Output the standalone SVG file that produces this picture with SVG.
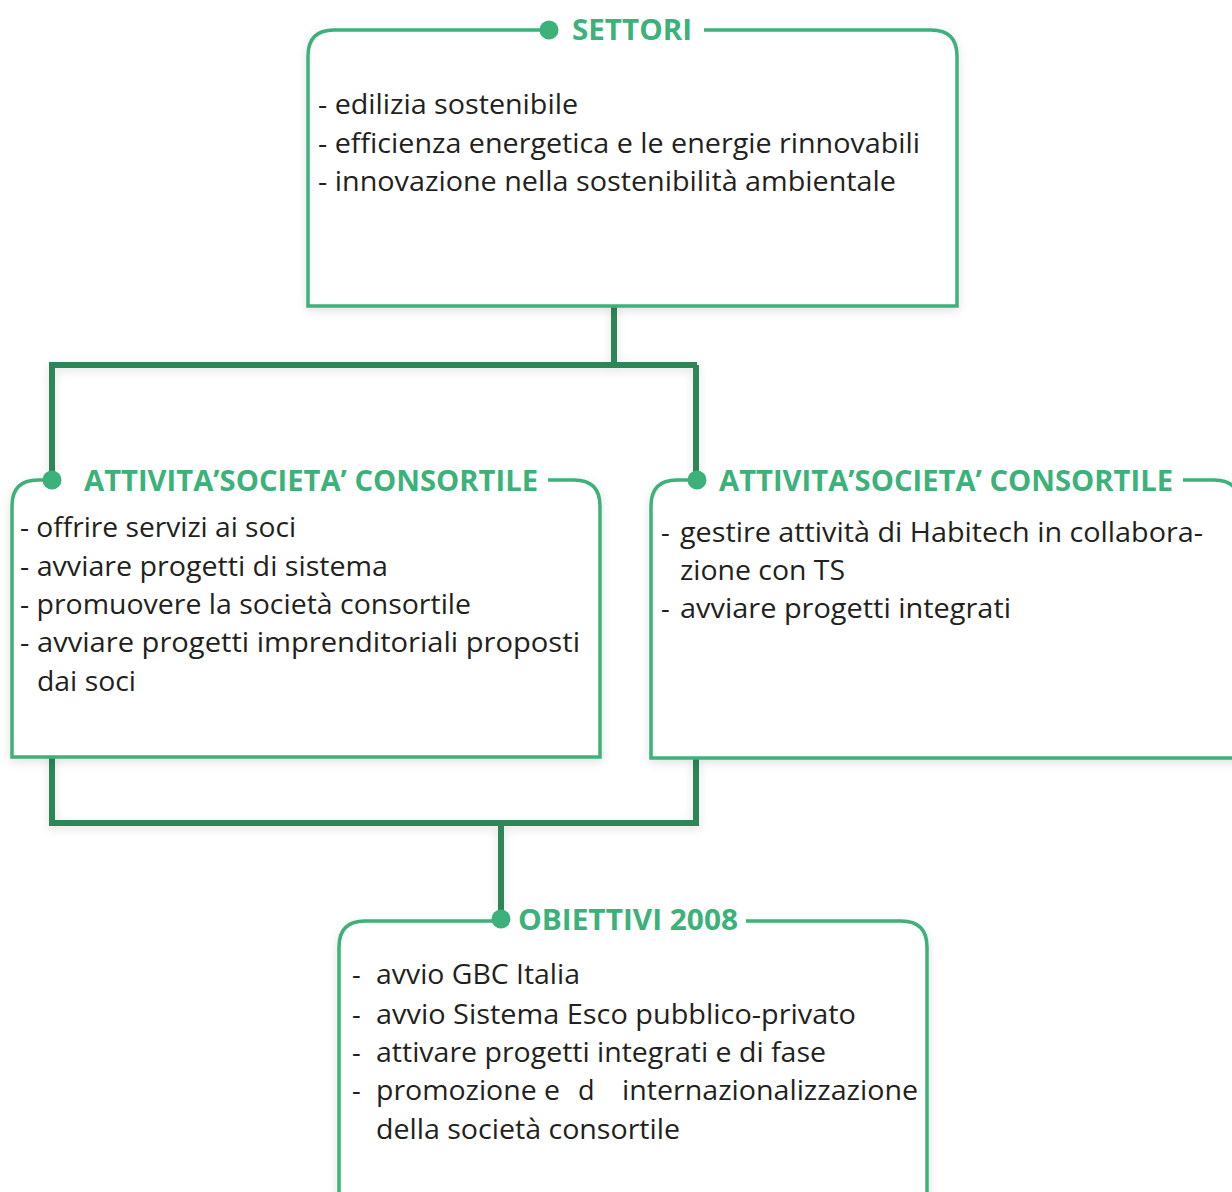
<svg xmlns="http://www.w3.org/2000/svg" width="1232" height="1192" viewBox="0 0 1232 1192">
<defs>
<filter id="sh" x="-10%" y="-10%" width="120%" height="130%">
<feDropShadow dx="0" dy="3" stdDeviation="5" flood-color="#000" flood-opacity="0.12"/>
</filter>
<style>
.box{fill:#fff;stroke:#3cb179;stroke-width:3.5}
.conn{fill:none;stroke:#2f8558;stroke-width:6}
.ttl{font-family:"Open Sans","Liberation Sans",sans-serif;font-weight:700;font-size:28px;fill:#3cb179}
.tx{font-family:"Open Sans","Liberation Sans",sans-serif;font-size:27px;fill:#231f20}
.dot{fill:#3cb179}
.mask{fill:#fff}
</style>
</defs>
<rect width="1232" height="1192" fill="#fff"/>
<g id="connectors" filter="url(#sh)">
<path class="conn" d="M614 306 V365 M49 365 H697 M52 365 V478 M696 365 V478"/>
<path class="conn" d="M52 757 V823 M696 758 V823 M49 823 H699 M501 823 V918"/>
</g>
<g id="settori">
<path class="box" filter="url(#sh)" d="M308 306 V56 Q308 30 334 30 H931 Q957 30 957 56 V306 Z"/>
<rect class="mask" x="552" y="20" width="152" height="22"/>
<circle class="dot" cx="549" cy="30" r="9.5"/>
<text class="ttl" x="572" y="40" textLength="120" lengthAdjust="spacingAndGlyphs">SETTORI</text>
<text class="tx" x="318" y="114" textLength="260" lengthAdjust="spacingAndGlyphs">- edilizia sostenibile</text>
<text class="tx" x="318" y="153" textLength="602" lengthAdjust="spacingAndGlyphs">- efficienza energetica e le energie rinnovabili</text>
<text class="tx" x="318" y="191" textLength="578" lengthAdjust="spacingAndGlyphs">- innovazione nella sostenibilità ambientale</text>
</g>
<g id="attivita-left">
<path class="box" filter="url(#sh)" d="M12 757 V506 Q12 480 38 480 H574 Q600 480 600 506 V757 Z"/>
<rect class="mask" x="55" y="470" width="493" height="22"/>
<circle class="dot" cx="52" cy="480" r="9.5"/>
<text class="ttl" x="84" y="491" textLength="454" lengthAdjust="spacingAndGlyphs">ATTIVITA’SOCIETA’ CONSORTILE</text>
<text class="tx" x="20" y="537" textLength="276" lengthAdjust="spacingAndGlyphs">- offrire servizi ai soci</text>
<text class="tx" x="20" y="576" textLength="368" lengthAdjust="spacingAndGlyphs">- avviare progetti di sistema</text>
<text class="tx" x="20" y="614" textLength="451" lengthAdjust="spacingAndGlyphs">- promuovere la società consortile</text>
<text class="tx" x="20" y="652" textLength="560" lengthAdjust="spacingAndGlyphs">- avviare progetti imprenditoriali proposti</text>
<text class="tx" x="37" y="691" textLength="99" lengthAdjust="spacingAndGlyphs">dai soci</text>
</g>
<g id="attivita-right">
<path class="box" filter="url(#sh)" d="M651 758 V506 Q651 480 677 480 H1214 Q1240 480 1240 506 V758 Z"/>
<rect class="mask" x="700" y="470" width="483" height="22"/>
<circle class="dot" cx="697" cy="480" r="9.5"/>
<text class="ttl" x="719" y="491" textLength="454" lengthAdjust="spacingAndGlyphs">ATTIVITA’SOCIETA’ CONSORTILE</text>
<text class="tx" x="661" y="542">-</text>
<text class="tx" x="680" y="542" textLength="523" lengthAdjust="spacingAndGlyphs">gestire attività di Habitech in collabora-</text>
<text class="tx" x="680" y="580" textLength="165" lengthAdjust="spacingAndGlyphs">zione con TS</text>
<text class="tx" x="661" y="618">-</text>
<text class="tx" x="680" y="618" textLength="331" lengthAdjust="spacingAndGlyphs">avviare progetti integrati</text>
</g>
<g id="obiettivi">
<path class="box" filter="url(#sh)" d="M339 1200 V947 Q339 921 365 921 H901 Q927 921 927 947 V1200"/>
<rect class="mask" x="504" y="910" width="242" height="22"/>
<circle class="dot" cx="501" cy="919" r="9.5"/>
<text class="ttl" x="518" y="930" textLength="220" lengthAdjust="spacingAndGlyphs">OBIETTIVI 2008</text>
<text class="tx" x="352" y="984">-</text>
<text class="tx" x="376" y="984" textLength="204" lengthAdjust="spacingAndGlyphs">avvio GBC Italia</text>
<text class="tx" x="352" y="1024">-</text>
<text class="tx" x="376" y="1024" textLength="480" lengthAdjust="spacingAndGlyphs">avvio Sistema Esco pubblico-privato</text>
<text class="tx" x="352" y="1062">-</text>
<text class="tx" x="376" y="1062" textLength="450" lengthAdjust="spacingAndGlyphs">attivare progetti integrati e di fase</text>
<text class="tx" x="352" y="1100">-</text>
<text class="tx" y="1100"><tspan x="376" textLength="184" lengthAdjust="spacingAndGlyphs">promozione e</tspan><tspan x="578">d</tspan><tspan x="622" textLength="296" lengthAdjust="spacingAndGlyphs">internazionalizzazione</tspan></text>
<text class="tx" x="376" y="1139" textLength="304" lengthAdjust="spacingAndGlyphs">della società consortile</text>
</g>
</svg>
